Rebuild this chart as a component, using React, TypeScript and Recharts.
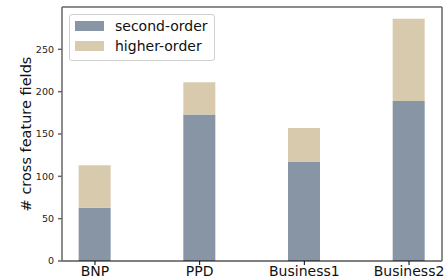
import { BarChart, Bar, XAxis, YAxis, Label } from "recharts";

const categories = ["BNP", "PPD", "Business1", "Business2"];
const secondOrder = [63, 173, 117, 189];
const higherOrder = [50, 38, 40, 97];
const yTicks = [0, 50, 100, 150, 200, 250];

const SECOND_COLOR = "#8795a5";
const HIGHER_COLOR = "#d8caad";
const FONT = "'DejaVu Sans', sans-serif";

const data = categories.map((name, i) => ({
    idx: i,
    name,
    second: secondOrder[i],
    higher: higherOrder[i],
}));

const legendItems = [
    { label: "second-order", color: SECOND_COLOR },
    { label: "higher-order", color: HIGHER_COLOR },
];

export default function App() {
    return (
        <div style={{ position: "absolute", left: 0, top: 0, width: 445, height: 280, fontFamily: FONT, background: "#fff" }}>
            <BarChart
                width={445}
                height={280}
                data={data}
                margin={{ top: 6, right: 2, left: 0, bottom: 0 }}
            >
                <XAxis
                    xAxisId="bottom"
                    type="number"
                    dataKey="idx"
                    domain={[-0.315, 3.315]}
                    ticks={[0, 1, 2, 3]}
                    tickFormatter={(v: number) => categories[v]}
                    allowDataOverflow
                    height={19}
                    tickSize={4}
                    tickMargin={1}
                    interval={0}
                    stroke="#000"
                    tick={{ fill: "#111", fontSize: 14, fontFamily: FONT }}
                />
                <XAxis
                    xAxisId="top"
                    orientation="top"
                    type="number"
                    dataKey="idx"
                    domain={[-0.315, 3.315]}
                    allowDataOverflow
                    height={1}
                    tick={false}
                    tickLine={false}
                    stroke="#666"
                    strokeWidth={1.5}
                />
                <YAxis
                    yAxisId="left"
                    domain={[0, 300]}
                    ticks={yTicks}
                    width={62}
                    tickSize={4}
                    tickMargin={4}
                    stroke="#666"
                    strokeWidth={1.5}
                    tick={{ fill: "#222", fontSize: 9.5, fontFamily: FONT }}
                >
                    <Label
                        value="# cross feature fields"
                        angle={-90}
                        position="center"
                        dx={-5}
                        style={{ fontSize: 14.5, fontFamily: FONT, fill: "#111" }}
                    />
                </YAxis>
                <YAxis
                    yAxisId="right"
                    orientation="right"
                    domain={[0, 300]}
                    width={1}
                    tick={false}
                    tickLine={false}
                    stroke="#666"
                    strokeWidth={1.5}
                />
                <Bar
                    xAxisId="bottom"
                    yAxisId="left"
                    dataKey="second"
                    stackId="a"
                    fill={SECOND_COLOR}
                    barSize={32}
                    isAnimationActive={false}
                />
                <Bar
                    xAxisId="bottom"
                    yAxisId="left"
                    dataKey="higher"
                    stackId="a"
                    fill={HIGHER_COLOR}
                    barSize={32}
                    isAnimationActive={false}
                />
            </BarChart>
            <div
                style={{
                    position: "absolute",
                    left: 69,
                    top: 14,
                    width: 144,
                    height: 45,
                    border: "1px solid #d0d0d0",
                    borderRadius: 3,
                    background: "rgba(255,255,255,0.8)",
                }}
            >
                {legendItems.map((item, i) => (
                    <div
                        key={item.label}
                        style={{
                            position: "absolute",
                            left: 5,
                            top: 5 + i * 20,
                            display: "flex",
                            alignItems: "center",
                            height: 12,
                        }}
                    >
                        <div style={{ width: 29, height: 10, background: item.color }} />
                        <span style={{ marginLeft: 11, fontSize: 14, color: "#111", lineHeight: "12px" }}>
                            {item.label}
                        </span>
                    </div>
                ))}
            </div>
        </div>
    );
}
